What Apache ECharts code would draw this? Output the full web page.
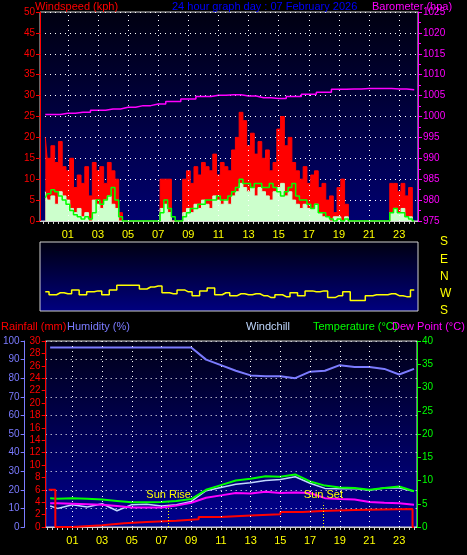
<!DOCTYPE html>
<html>
<head>
<meta charset="UTF-8">
<title>24 hour graph</title>
<script src="https://cdn.jsdelivr.net/npm/echarts@6/dist/echarts.min.js"></script>
<style>
  html, body { margin: 0; padding: 0; background: #000; }
  #main { width: 467px; height: 555px; }
</style>
</head>
<body>
<div id="main"></div>
<script>
// wind, every 15 min from -0.5 h to 24.0 h
var gust = [20, 15,
  18, 14, 19, 13,   12, 15, 8, 11,   9, 13, 6, 14,   12, 13, 9, 14,
  12, 10, 2, 0,     0, 0, 0, 0,      0, 0, 0, 0,     0, 10, 10, 10,
  0, 0, 0, 10,      12, 9, 13, 11,   14, 13, 12, 16, 11, 14, 13, 12,
  17, 20, 26, 24,   18, 21, 16, 19,  15, 17, 12, 14, 22, 25, 18, 20,
  14, 12, 10, 13,   9, 11, 12, 8,    9, 5, 6, 2,     8, 10, 4, 0,
  0, 0, 0, 0,       0, 0, 0, 0,      0, 0, 9, 9,     7, 9, 6, 8,
  0];
var speed = [7, 5,
  6, 4, 7, 6,   5, 3, 2, 3,   1, 2, 0, 5,   4, 3, 5, 6,
  4, 3, 0, 0,   0, 0, 0, 0,   0, 0, 0, 0,   0, 3, 4, 2,
  0, 0, 0, 2,   3, 2, 4, 3,   5, 4, 3, 6,   5, 4, 5, 4,
  6, 7, 9, 8,   7, 8, 6, 8,   7, 6, 5, 7,   8, 9, 6, 7,
  5, 4, 3, 4,   3, 3, 4, 2,   1, 1, 0, 1,   1, 0, 1, 0,
  0, 0, 0, 0,   0, 0, 0, 0,   0, 0, 2, 3,   2, 3, 1, 1,
  0];
var average = [5.5, 6.5,
  7.5, 7, 6, 5,   4, 2.5, 1.5, 1,   0.5, 1, 0.5, 2,   5, 4, 5, 6,
  8, 5, 1, 0,     0, 0, 0, 0,       0, 0, 0, 0,       0, 2, 5, 3,
  1, 0, 0, 1,     2, 3, 3, 4,       4, 5, 5, 5,       6, 5, 5, 6,
  7, 8, 10, 9,    9, 8, 9, 9,       8, 8, 9, 8,       7, 6, 7, 8,
  9, 6, 5, 5,     4, 3, 4, 2,       2, 1, 0.5, 0,     0.5, 0, 0.5, 0,
  0, 0, 0, 0,     0, 0, 0, 0,       0, 0, 2, 3,       2, 2, 1, 0.5,
  0];

// hourly values at -0.5, 0, 1 ... 24
var hourTimes = [-0.5, 0, 1, 2, 3, 4, 5, 6, 7, 8, 9, 10, 11, 12, 13, 14, 15, 16, 17, 18, 19, 20, 21, 22, 23, 24];
var barometer = [1000.5, 1000.5, 1000.8, 1001.0, 1001.5, 1001.8, 1002.2, 1002.6, 1003.0, 1003.6, 1004.2, 1004.8, 1005.1,
  1005.2, 1004.9, 1004.5, 1004.3, 1004.8, 1005.3, 1005.8, 1006.5, 1006.6, 1006.7, 1006.7, 1006.6, 1006.4];
var humidity = [96.5, 96.5, 96.5, 96.5, 96.5, 96.5, 96.5, 96.5, 96.5, 96.5, 96.5, 90, 87,
  84, 81.5, 81, 81, 80, 83.5, 84, 87, 86, 86, 85, 82, 85];
var temperature = [6.2, 6.1, 6.2, 6.1, 5.9, 5.6, 5.3, 5.3, 5.4, 5.6, 6.0, 8.0, 9.0,
  10.0, 10.4, 10.9, 10.8, 11.3, 9.8, 8.9, 8.5, 8.4, 8.0, 8.4, 8.7, 7.7];
var dewPoint = [5.1, 5.1, 5.0, 4.9, 4.8, 4.5, 4.2, 4.2, 4.2, 4.6, 5.2, 6.3, 6.8,
  7.3, 7.2, 7.6, 7.3, 7.4, 7.3, 6.2, 6.0, 5.9, 5.4, 5.2, 5.1, 4.8];
var windchill = [4.5, 4.0, 4.8, 4.3, 5.0, 3.5, 4.8, 4.9, 4.5, 4.8, 5.5, 7.8, 8.5,
  9.2, 9.5, 10.0, 10.2, 10.8, 9.4, 8.3, 8.2, 8.3, 7.9, 8.4, 8.4, 7.7];

// wind direction every 30 min from -0.5 h (W = -90, N = 0, E = 90, S = +-180)
var direction = [-80,
  -95, -85, -90, -70, -95, -80, -75, -95, -70, -45, -45, -45, -65, -55, -50, -85,
  -90, -70, -80, -100, -75, -60, -95, -85, -100, -90, -95, -90, -100, -110, -95, -105,
  -85, -100, -75, -80, -75, -110, -100, -80, -125, -125, -100, -95, -95, -90, -100, -105,
  -70];

// rainfall steps
var rainTimes = [-0.6, -0.15, 1, 3, 4.5, 6, 8, 9.5, 11, 13, 15, 16.5, 17.8, 20, 23.9, 24.0];
var rainfall = [6, 0, 0.3, 0.6, 0.8, 1.0, 1.25, 1.6, 1.85, 2.05, 2.4, 2.6, 2.75, 2.9, 0, 0];

var hourLabels = [1, 3, 5, 7, 9, 11, 13, 15, 17, 19, 21, 23];
var sunRise = 7.48, sunSet = 17.9;

function quarter(arr) {
  return arr.map(function (v, i) { return [-0.5 + i * 0.25, v]; });
}
function halfHour(arr) {
  return arr.map(function (v, i) { return [-0.5 + i * 0.5, v]; });
}
function hourly(arr) {
  return arr.map(function (v, i) { return [hourTimes[i], v]; });
}

var minorTicks = [];
for (var k = -2; k <= 72; k++) minorTicks.push(k / 3);

var font = 'Liberation Sans';
var dotted = { color: '#ffffff', type: [1, 4], width: 1 };

function bg(c0, c1) {
  return new echarts.graphic.LinearGradient(0, 0, 0, 1, [{ offset: 0, color: c0 }, { offset: 1, color: c1 }]);
}

function xAxisFor(grid, min, max, show) {
  return {
    type: 'value', gridIndex: grid, min: min, max: max,
    axisLine: { show: show, onZero: false, lineStyle: { color: '#d0d0d0' } },
    axisTick: { show: show, customValues: minorTicks, length: 3, lineStyle: { color: '#d0d0d0' } },
    axisLabel: {
      show: show, customValues: hourLabels, color: '#ffff00', fontFamily: font, fontSize: 11, margin: 8,
      formatter: function (v) { return (v < 10 ? '0' : '') + v; }
    },
    splitLine: { show: false }
  };
}

function yAxisFor(grid, pos, min, max, interval, color, extra) {
  var a = {
    type: 'value', gridIndex: grid, position: pos, min: min, max: max, interval: interval,
    axisLine: { show: true, onZero: false, lineStyle: { color: color } },
    axisTick: { show: true, length: 4, lineStyle: { color: color } },
    axisLabel: { color: color, fontFamily: font, fontSize: 10, margin: 5, formatter: function (v) { return String(v); } },
    splitLine: { show: false }
  };
  for (var key in extra) a[key] = extra[key];
  return a;
}

var vLines = {
  silent: true, symbol: 'none', label: { show: false },
  lineStyle: dotted,
  data: hourLabels.map(function (h) { return { xAxis: h }; })
};

var dirNames = { '-180': 'S', '-90': 'W', '0': 'N', '90': 'E', '180': 'S' };

var myChart = echarts.init(document.getElementById('main'));
var option = {
  backgroundColor: '#000',
  animation: false,
  textStyle: { fontFamily: font },
  grid: [
    { left: 40, top: 12, width: 378, height: 209, show: true, borderColor: '#d0d0d0', backgroundColor: bg('#000010', '#000070') },
    { left: 40, top: 242, width: 378, height: 69, show: true, borderColor: '#d0d0d0', backgroundColor: bg('#000010', '#000080') },
    { left: 43, top: 341, width: 374, height: 186, show: true, borderColor: '#d0d0d0', backgroundColor: bg('#000018', '#000090') }
  ],
  xAxis: [
    xAxisFor(0, -0.85, 24.25, true),
    xAxisFor(1, -0.85, 24.25, false),
    xAxisFor(2, -0.8, 24.2, true)
  ],
  yAxis: [
    yAxisFor(0, 'left', 0, 50, 5, '#ff0000', { splitLine: { show: true, lineStyle: dotted } }),
    yAxisFor(0, 'right', 975, 1025, 5, '#ff00ff', {
      minorTick: { show: true, splitNumber: 2, length: 3, lineStyle: { color: '#ff00ff' } }
    }),
    { // direction
      type: 'value', gridIndex: 1, position: 'right', min: -180, max: 180, interval: 90, offset: 14,
      axisLine: { show: false }, axisTick: { show: false },
      axisLabel: { color: '#ffff00', fontFamily: font, fontSize: 12, formatter: function (v) { return dirNames[String(v)]; } },
      splitLine: { show: false }
    },
    yAxisFor(2, 'left', 0, 30, 2, '#ff0000', {}),
    yAxisFor(2, 'left', 0, 100, 10, '#7b7bff', { offset: 21, splitLine: { show: true, lineStyle: dotted } }),
    yAxisFor(2, 'right', 0, 40, 5, '#00ff00', {})
  ],
  series: [
    { type: 'line', xAxisIndex: 0, yAxisIndex: 0, data: [], markLine: vLines },
    { name: 'Gust', type: 'line', xAxisIndex: 0, yAxisIndex: 0, step: 'middle', symbol: 'none',
      data: quarter(gust), lineStyle: { color: '#ff0000', width: 1 }, areaStyle: { color: '#ff0000', opacity: 1 } },
    { name: 'Speed', type: 'line', xAxisIndex: 0, yAxisIndex: 0, step: 'middle', symbol: 'none',
      data: quarter(speed), lineStyle: { color: '#ccffcc', width: 1 }, areaStyle: { color: '#ccffcc', opacity: 1 } },
    { name: 'Average', type: 'line', xAxisIndex: 0, yAxisIndex: 0, step: 'middle', symbol: 'none',
      data: quarter(average), lineStyle: { color: '#00ff00', width: 1.5 } },
    { name: 'Barometer', type: 'line', xAxisIndex: 0, yAxisIndex: 1, step: 'middle', symbol: 'none',
      data: hourly(barometer), lineStyle: { color: '#ff00ff', width: 1.5 } },
    { name: 'Direction', type: 'line', xAxisIndex: 1, yAxisIndex: 2, step: 'middle', symbol: 'none',
      data: halfHour(direction), lineStyle: { color: '#ffff00', width: 1.5 } },
    { type: 'line', xAxisIndex: 2, yAxisIndex: 4, data: [], markLine: vLines },
    { name: 'Humidity', type: 'line', xAxisIndex: 2, yAxisIndex: 4, symbol: 'none',
      data: hourly(humidity), lineStyle: { color: '#7b7bff', width: 2 } },
    { name: 'Windchill', type: 'line', xAxisIndex: 2, yAxisIndex: 5, symbol: 'none',
      data: hourly(windchill), lineStyle: { color: '#c0d8ff', width: 1.5 } },
    { name: 'Temperature', type: 'line', xAxisIndex: 2, yAxisIndex: 5, symbol: 'none',
      data: hourly(temperature), lineStyle: { color: '#00ff00', width: 2 } },
    { name: 'Dew Point', type: 'line', xAxisIndex: 2, yAxisIndex: 5, symbol: 'none',
      data: hourly(dewPoint), lineStyle: { color: '#ff00ff', width: 2 } },
    { name: 'Rainfall', type: 'line', xAxisIndex: 2, yAxisIndex: 3, step: 'end', symbol: 'none',
      data: rainTimes.map(function (t, i) { return [t, rainfall[i]]; }),
      lineStyle: { color: '#ff0000', width: 2 },
      markLine: {
        silent: true, symbol: 'none',
        lineStyle: { color: '#ffff00', type: [1, 2], width: 1 },
        label: { show: true, position: 'end', color: '#ffff00', fontFamily: font, fontSize: 11, distance: 2 },
        data: [
          [{ coord: [sunRise, 0] }, { coord: [sunRise, 3.9], label: { formatter: 'Sun Rise' } }],
          [{ coord: [sunSet, 0] }, { coord: [sunSet, 3.9], label: { formatter: 'Sun Set' } }]
        ]
      }
    }
  ],
  graphic: [
    { type: 'text', left: 35, top: 1, style: { text: 'Windspeed (kph)', fill: '#ff0000', font: '11px Liberation Sans' } },
    { type: 'text', left: 172, top: 1, style: { text: '24 hour graph day : 07 February 2026', fill: '#0000ff', font: '11px Liberation Sans' } },
    { type: 'text', left: 372, top: 1, style: { text: 'Barometer (hpa)', fill: '#ff00ff', font: '11px Liberation Sans' } },
    { type: 'text', left: 1, top: 321, style: { text: 'Rainfall (mm)', fill: '#ff0000', font: '11px Liberation Sans' } },
    { type: 'text', left: 67, top: 321, style: { text: 'Humidity (%)', fill: '#7b7bff', font: '11px Liberation Sans' } },
    { type: 'text', left: 246, top: 321, style: { text: 'Windchill', fill: '#c0d8ff', font: '11px Liberation Sans' } },
    { type: 'text', left: 313, top: 321, style: { text: 'Temperature (°C)', fill: '#00ff00', font: '11px Liberation Sans' } },
    { type: 'text', left: 392, top: 321, style: { text: 'Dew Point (°C)', fill: '#ff00ff', font: '11px Liberation Sans' } }
  ]
};
myChart.setOption(option);
</script>
</body>
</html>
